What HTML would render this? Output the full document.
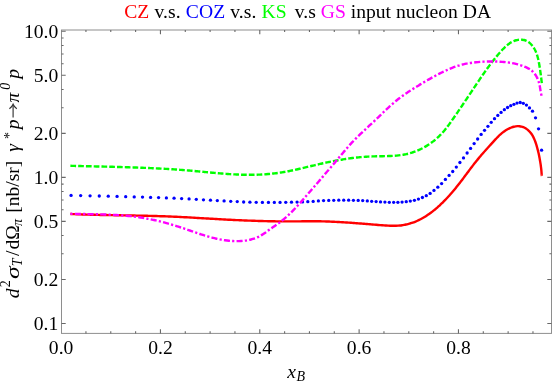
<!DOCTYPE html>
<html><head><meta charset="utf-8"><title>plot</title>
<style>
html,body{margin:0;padding:0;background:#fff;}
body{width:559px;height:382px;overflow:hidden;font-family:"Liberation Serif",serif;}
svg{display:block;}
</style></head><body>
<svg width="559" height="382" viewBox="0 0 559 382">
<rect width="559" height="382" fill="#fff"/>
<g fill="none" stroke-width="2.4">
<path d="M70.40 214.00C70.73 214.01 71.73 214.06 72.40 214.09C73.06 214.11 73.73 214.14 74.40 214.17C75.06 214.19 75.73 214.22 76.40 214.25C77.06 214.27 77.73 214.30 78.39 214.32C79.06 214.34 79.73 214.37 80.39 214.39C81.06 214.41 81.73 214.44 82.39 214.46C83.06 214.48 83.72 214.50 84.39 214.52C85.06 214.54 85.72 214.56 86.39 214.58C87.06 214.60 87.72 214.62 88.39 214.64C89.06 214.66 89.72 214.68 90.39 214.70C91.05 214.71 91.72 214.73 92.39 214.75C93.05 214.77 93.72 214.78 94.39 214.80C95.05 214.82 95.72 214.83 96.39 214.85C97.05 214.86 97.72 214.88 98.39 214.89C99.05 214.91 99.72 214.92 100.39 214.94C101.05 214.95 101.72 214.97 102.38 214.98C103.05 214.99 103.72 215.01 104.38 215.02C105.05 215.03 105.72 215.05 106.38 215.06C107.05 215.07 107.72 215.08 108.38 215.10C109.05 215.11 109.72 215.12 110.38 215.13C111.05 215.15 111.72 215.16 112.38 215.17C113.05 215.18 113.72 215.19 114.38 215.21C115.05 215.22 115.72 215.23 116.38 215.24C117.05 215.25 117.72 215.26 118.38 215.27C119.05 215.29 119.72 215.30 120.38 215.31C121.05 215.32 121.72 215.33 122.38 215.34C123.05 215.35 123.72 215.36 124.38 215.38C125.05 215.39 125.72 215.40 126.38 215.41C127.05 215.42 127.72 215.43 128.38 215.44C129.05 215.46 129.72 215.47 130.38 215.48C131.05 215.49 131.72 215.50 132.38 215.51C133.05 215.53 133.72 215.54 134.38 215.55C135.05 215.56 135.72 215.58 136.38 215.59C137.05 215.60 137.71 215.61 138.38 215.63C139.05 215.64 139.71 215.65 140.38 215.67C141.05 215.68 141.71 215.69 142.38 215.71C143.05 215.72 143.71 215.74 144.38 215.75C145.05 215.77 145.71 215.78 146.38 215.80C147.05 215.81 147.71 215.83 148.38 215.84C149.05 215.86 149.71 215.88 150.38 215.89C151.04 215.91 151.71 215.93 152.38 215.94C153.04 215.96 153.71 215.98 154.38 216.00C155.04 216.02 155.71 216.04 156.38 216.06C157.04 216.07 157.71 216.09 158.37 216.12C159.04 216.14 159.71 216.16 160.37 216.18C161.04 216.20 161.71 216.22 162.37 216.24C163.04 216.27 163.71 216.29 164.37 216.31C165.04 216.34 165.70 216.36 166.37 216.38C167.04 216.41 167.70 216.43 168.37 216.46C169.03 216.49 169.70 216.51 170.37 216.54C171.03 216.57 171.70 216.60 172.36 216.62C173.03 216.65 173.70 216.68 174.36 216.71C175.03 216.74 175.69 216.77 176.36 216.80C177.03 216.84 177.69 216.87 178.36 216.90C179.02 216.93 179.69 216.96 180.36 217.00C181.02 217.03 181.69 217.06 182.35 217.10C183.02 217.13 183.69 217.17 184.35 217.20C185.02 217.24 185.68 217.27 186.35 217.31C187.01 217.34 187.68 217.38 188.35 217.42C189.01 217.45 189.68 217.49 190.34 217.53C191.01 217.57 191.68 217.60 192.34 217.64C193.01 217.68 193.67 217.72 194.34 217.75C195.00 217.79 195.67 217.83 196.34 217.87C197.00 217.91 197.67 217.95 198.33 217.99C199.00 218.02 199.66 218.06 200.33 218.10C200.99 218.14 201.66 218.18 202.33 218.22C202.99 218.26 203.66 218.30 204.32 218.34C204.99 218.38 205.65 218.42 206.32 218.46C206.99 218.49 207.65 218.53 208.32 218.57C208.98 218.61 209.65 218.65 210.31 218.69C210.98 218.73 211.65 218.77 212.31 218.81C212.98 218.84 213.64 218.88 214.31 218.92C214.97 218.96 215.64 219.00 216.30 219.04C216.97 219.07 217.64 219.11 218.30 219.15C218.97 219.19 219.63 219.22 220.30 219.26C220.96 219.30 221.63 219.33 222.30 219.37C222.96 219.40 223.63 219.44 224.29 219.48C224.96 219.51 225.62 219.55 226.29 219.58C226.95 219.62 227.62 219.65 228.29 219.68C228.95 219.72 229.62 219.75 230.28 219.79C230.95 219.82 231.61 219.85 232.28 219.89C232.95 219.92 233.61 219.95 234.28 219.98C234.94 220.02 235.61 220.05 236.27 220.08C236.94 220.11 237.61 220.14 238.27 220.17C238.94 220.20 239.60 220.23 240.27 220.26C240.94 220.29 241.60 220.32 242.27 220.35C242.93 220.38 243.60 220.40 244.26 220.43C244.93 220.46 245.60 220.49 246.26 220.51C246.93 220.54 247.59 220.57 248.26 220.59C248.93 220.62 249.59 220.64 250.26 220.67C250.92 220.69 251.59 220.72 252.26 220.74C252.92 220.77 253.59 220.79 254.25 220.81C254.92 220.83 255.59 220.86 256.25 220.88C256.92 220.90 257.58 220.92 258.25 220.94C258.92 220.96 259.58 220.98 260.25 221.00C260.92 221.02 261.58 221.04 262.25 221.06C262.91 221.07 263.58 221.09 264.25 221.11C264.91 221.12 265.58 221.14 266.25 221.16C266.91 221.17 267.58 221.19 268.25 221.20C268.91 221.22 269.58 221.23 270.25 221.24C270.91 221.25 271.58 221.27 272.24 221.28C272.91 221.29 273.58 221.30 274.24 221.31C274.91 221.32 275.58 221.33 276.24 221.34C276.91 221.35 277.58 221.35 278.24 221.36C278.91 221.37 279.58 221.38 280.25 221.38C280.91 221.39 281.58 221.39 282.25 221.40C282.91 221.40 283.58 221.40 284.25 221.41C284.91 221.41 285.58 221.41 286.25 221.41C286.91 221.41 287.58 221.41 288.25 221.41C288.92 221.41 289.58 221.41 290.25 221.41C290.92 221.40 291.59 221.40 292.25 221.40C292.92 221.39 293.59 221.39 294.25 221.38C294.92 221.38 295.59 221.37 296.26 221.37C296.92 221.36 297.59 221.36 298.26 221.35C298.93 221.34 299.59 221.34 300.26 221.33C300.93 221.33 301.60 221.32 302.26 221.31C302.93 221.31 303.60 221.30 304.26 221.30C304.93 221.29 305.60 221.29 306.27 221.28C306.93 221.28 307.60 221.27 308.27 221.27C308.94 221.27 309.60 221.26 310.27 221.26C310.94 221.26 311.60 221.26 312.27 221.26C312.94 221.26 313.60 221.26 314.27 221.26C314.94 221.26 315.61 221.27 316.27 221.27C316.94 221.28 317.61 221.28 318.27 221.29C318.94 221.30 319.60 221.31 320.27 221.32C320.94 221.33 321.60 221.34 322.27 221.36C322.94 221.37 323.60 221.39 324.27 221.41C324.93 221.43 325.60 221.44 326.27 221.46C326.93 221.49 327.60 221.51 328.26 221.53C328.93 221.56 329.59 221.58 330.26 221.61C330.92 221.63 331.59 221.66 332.26 221.69C332.92 221.72 333.59 221.75 334.25 221.78C334.92 221.81 335.58 221.85 336.25 221.88C336.91 221.91 337.58 221.95 338.24 221.98C338.91 222.02 339.57 222.06 340.24 222.10C340.90 222.13 341.57 222.17 342.23 222.21C342.90 222.25 343.56 222.30 344.23 222.34C344.89 222.38 345.55 222.42 346.22 222.47C346.88 222.51 347.55 222.56 348.21 222.60C348.88 222.65 349.54 222.69 350.21 222.74C350.87 222.79 351.54 222.83 352.20 222.88C352.87 222.93 353.53 222.98 354.20 223.03C354.86 223.08 355.53 223.13 356.19 223.18C356.85 223.23 357.52 223.28 358.18 223.33C358.85 223.38 359.51 223.43 360.18 223.49C360.84 223.54 361.51 223.59 362.17 223.64C362.84 223.69 363.50 223.75 364.17 223.80C364.83 223.85 365.50 223.91 366.16 223.96C366.83 224.01 367.49 224.07 368.16 224.12C368.82 224.18 369.49 224.23 370.15 224.28C370.82 224.34 371.48 224.39 372.15 224.45C372.81 224.50 373.48 224.55 374.14 224.61C374.81 224.66 375.47 224.71 376.14 224.77C376.80 224.82 377.47 224.87 378.13 224.93C378.80 224.98 379.47 225.03 380.13 225.08C380.80 225.14 381.46 225.19 382.13 225.24C382.79 225.29 383.46 225.34 384.13 225.39C384.79 225.43 385.46 225.48 386.12 225.52C386.79 225.56 387.46 225.60 388.12 225.63C388.79 225.66 389.45 225.69 390.12 225.71C390.78 225.74 391.45 225.75 392.11 225.76C392.78 225.77 393.44 225.77 394.10 225.76C394.77 225.76 395.43 225.74 396.09 225.72C396.76 225.69 397.42 225.66 398.08 225.62C398.74 225.57 399.40 225.52 400.07 225.45C400.73 225.38 401.39 225.30 402.05 225.21C402.71 225.12 403.37 225.01 404.02 224.90C404.68 224.78 405.34 224.65 405.99 224.51C406.65 224.37 407.30 224.22 407.95 224.05C408.60 223.89 409.24 223.71 409.89 223.53C410.53 223.34 411.17 223.14 411.81 222.93C412.45 222.72 413.08 222.50 413.71 222.27C414.34 222.04 414.96 221.79 415.58 221.54C416.20 221.29 416.82 221.02 417.43 220.75C418.04 220.48 418.64 220.19 419.24 219.90C419.84 219.61 420.43 219.30 421.02 218.99C421.61 218.68 422.19 218.36 422.77 218.03C423.35 217.70 423.93 217.36 424.49 217.02C425.06 216.67 425.63 216.32 426.19 215.96C426.75 215.60 427.30 215.23 427.85 214.86C428.40 214.49 428.95 214.11 429.49 213.72C430.03 213.34 430.57 212.94 431.10 212.55C431.63 212.15 432.16 211.75 432.68 211.34C433.21 210.93 433.73 210.52 434.24 210.10C434.76 209.68 435.27 209.26 435.78 208.83C436.29 208.41 436.79 207.97 437.29 207.54C437.80 207.10 438.29 206.66 438.79 206.21C439.28 205.77 439.77 205.32 440.25 204.86C440.74 204.41 441.22 203.95 441.70 203.49C442.18 203.03 442.66 202.56 443.13 202.09C443.60 201.62 444.07 201.15 444.54 200.67C445.00 200.19 445.47 199.71 445.93 199.23C446.39 198.75 446.84 198.26 447.30 197.77C447.75 197.28 448.20 196.79 448.65 196.29C449.10 195.79 449.54 195.30 449.99 194.79C450.43 194.29 450.87 193.79 451.31 193.28C451.74 192.78 452.18 192.27 452.61 191.76C453.04 191.25 453.47 190.73 453.90 190.22C454.33 189.71 454.76 189.19 455.18 188.67C455.60 188.15 456.02 187.63 456.44 187.11C456.86 186.59 457.28 186.06 457.69 185.54C458.11 185.01 458.52 184.49 458.93 183.96C459.34 183.44 459.75 182.91 460.16 182.38C460.57 181.85 460.98 181.32 461.38 180.79C461.79 180.26 462.19 179.73 462.59 179.20C462.99 178.66 463.39 178.13 463.79 177.60C464.19 177.07 464.59 176.53 464.99 176.00C465.39 175.47 465.78 174.94 466.18 174.40C466.58 173.87 466.97 173.34 467.37 172.80C467.77 172.27 468.17 171.74 468.56 171.21C468.96 170.68 469.36 170.15 469.76 169.61C470.16 169.08 470.56 168.55 470.96 168.02C471.36 167.50 471.76 166.97 472.17 166.44C472.57 165.91 472.97 165.39 473.38 164.86C473.79 164.34 474.20 163.81 474.61 163.29C475.02 162.77 475.43 162.24 475.85 161.72C476.27 161.20 476.68 160.69 477.11 160.17C477.53 159.65 477.95 159.14 478.38 158.62C478.81 158.11 479.24 157.60 479.67 157.09C480.10 156.58 480.53 156.07 480.97 155.56C481.41 155.06 481.84 154.55 482.28 154.04C482.72 153.54 483.16 153.04 483.61 152.53C484.05 152.03 484.49 151.53 484.94 151.03C485.38 150.53 485.83 150.03 486.27 149.53C486.72 149.03 487.16 148.53 487.61 148.04C488.06 147.54 488.51 147.05 488.95 146.55C489.40 146.06 489.85 145.56 490.30 145.07C490.74 144.57 491.19 144.08 491.64 143.59C492.08 143.09 492.53 142.60 492.97 142.11C493.42 141.62 493.86 141.13 494.31 140.64C494.75 140.15 495.20 139.66 495.65 139.18C496.10 138.70 496.56 138.22 497.02 137.75C497.47 137.27 497.94 136.80 498.41 136.34C498.88 135.88 499.36 135.42 499.84 134.98C500.33 134.53 500.83 134.09 501.33 133.66C501.84 133.23 502.35 132.81 502.88 132.40C503.41 131.99 503.95 131.59 504.50 131.20C505.06 130.82 505.63 130.44 506.21 130.08C506.79 129.72 507.39 129.37 508.00 129.05C508.61 128.72 509.23 128.41 509.86 128.13C510.48 127.85 511.12 127.59 511.76 127.36C512.41 127.13 513.06 126.92 513.71 126.75C514.36 126.58 515.01 126.44 515.67 126.35C516.32 126.25 516.97 126.18 517.62 126.17C518.27 126.15 518.92 126.17 519.56 126.24C520.20 126.31 520.84 126.43 521.46 126.59C522.09 126.75 522.70 126.95 523.31 127.20C523.91 127.44 524.50 127.72 525.08 128.04C525.65 128.36 526.21 128.71 526.75 129.10C527.29 129.48 527.81 129.90 528.31 130.34C528.80 130.78 529.28 131.25 529.73 131.74C530.18 132.22 530.60 132.74 531.00 133.27C531.40 133.80 531.77 134.35 532.13 134.92C532.48 135.48 532.81 136.07 533.13 136.66C533.44 137.25 533.73 137.86 534.01 138.48C534.29 139.09 534.55 139.72 534.80 140.35C535.05 140.98 535.28 141.62 535.51 142.27C535.73 142.91 535.94 143.55 536.15 144.20C536.36 144.84 536.55 145.49 536.74 146.13C536.93 146.77 537.11 147.42 537.29 148.06C537.47 148.70 537.64 149.35 537.80 149.99C537.96 150.63 538.12 151.28 538.27 151.92C538.42 152.56 538.57 153.21 538.71 153.85C538.85 154.50 538.98 155.14 539.12 155.79C539.25 156.44 539.37 157.09 539.50 157.74C539.62 158.39 539.74 159.04 539.85 159.69C539.97 160.34 540.08 161.00 540.19 161.65C540.30 162.31 540.41 162.97 540.51 163.63C540.61 164.28 540.71 164.95 540.80 165.61C540.89 166.27 540.98 166.93 541.06 167.60C541.14 168.26 541.22 168.93 541.29 169.59C541.35 170.26 541.42 170.92 541.47 171.59C541.52 172.25 541.57 172.92 541.61 173.59C541.65 174.25 541.68 175.21 541.69 175.58C541.71 175.95 541.70 175.76 541.70 175.80" stroke="#ff0000"/>
<g fill="#0000ff" stroke="none"><circle cx="71.08" cy="195.40" r="1.65"/><circle cx="80.66" cy="195.60" r="1.65"/><circle cx="90.09" cy="195.85" r="1.65"/><circle cx="99.27" cy="196.00" r="1.65"/><circle cx="108.27" cy="196.20" r="1.65"/><circle cx="117.07" cy="196.40" r="1.65"/><circle cx="125.69" cy="196.70" r="1.65"/><circle cx="134.22" cy="196.90" r="1.65"/><circle cx="142.52" cy="197.10" r="1.65"/><circle cx="150.59" cy="197.40" r="1.65"/><circle cx="158.59" cy="197.60" r="1.65"/><circle cx="166.40" cy="197.90" r="1.65"/><circle cx="174.05" cy="198.20" r="1.65"/><circle cx="181.62" cy="198.60" r="1.65"/><circle cx="189.07" cy="198.90" r="1.65"/><circle cx="196.30" cy="199.30" r="1.65"/><circle cx="203.47" cy="199.80" r="1.65"/><circle cx="210.48" cy="200.20" r="1.65"/><circle cx="217.32" cy="200.60" r="1.65"/><circle cx="224.10" cy="200.90" r="1.65"/><circle cx="230.73" cy="201.30" r="1.65"/><circle cx="237.24" cy="201.60" r="1.65"/><circle cx="243.65" cy="202.00" r="1.65"/><circle cx="249.91" cy="202.20" r="1.65"/><circle cx="256.22" cy="202.30" r="1.65"/><circle cx="262.37" cy="202.40" r="1.65"/><circle cx="268.43" cy="202.40" r="1.65"/><circle cx="274.34" cy="202.40" r="1.65"/><circle cx="280.05" cy="202.40" r="1.65"/><circle cx="285.77" cy="202.30" r="1.65"/><circle cx="291.49" cy="202.20" r="1.65"/><circle cx="297.07" cy="202.10" r="1.65"/><circle cx="302.51" cy="201.90" r="1.65"/><circle cx="307.81" cy="201.70" r="1.65"/><circle cx="313.17" cy="201.40" r="1.65"/><circle cx="318.39" cy="200.90" r="1.65"/><circle cx="323.58" cy="200.60" r="1.65"/><circle cx="328.73" cy="200.40" r="1.65"/><circle cx="333.74" cy="200.30" r="1.65"/><circle cx="338.77" cy="200.20" r="1.65"/><circle cx="343.72" cy="200.20" r="1.65"/><circle cx="348.64" cy="200.20" r="1.65"/><circle cx="353.42" cy="200.30" r="1.65"/><circle cx="358.18" cy="200.40" r="1.65"/><circle cx="362.70" cy="200.60" r="1.65"/><circle cx="367.30" cy="200.90" r="1.65"/><circle cx="371.67" cy="201.30" r="1.65"/><circle cx="376.11" cy="201.60" r="1.65"/><circle cx="380.53" cy="201.90" r="1.65"/><circle cx="384.92" cy="202.10" r="1.65"/><circle cx="389.33" cy="202.30" r="1.65"/><circle cx="393.67" cy="202.30" r="1.65"/><circle cx="397.89" cy="202.30" r="1.65"/><circle cx="402.08" cy="202.10" r="1.65"/><circle cx="406.25" cy="201.70" r="1.65"/><circle cx="410.30" cy="201.10" r="1.65"/><circle cx="414.43" cy="200.30" r="1.65"/><circle cx="418.44" cy="199.10" r="1.65"/><circle cx="422.42" cy="197.50" r="1.65"/><circle cx="426.29" cy="195.70" r="1.65"/><circle cx="430.14" cy="193.40" r="1.65"/><circle cx="433.97" cy="190.40" r="1.65"/><circle cx="437.83" cy="187.20" r="1.65"/><circle cx="441.62" cy="183.60" r="1.65"/><circle cx="445.39" cy="179.40" r="1.65"/><circle cx="449.10" cy="175.40" r="1.65"/><circle cx="452.73" cy="171.50" r="1.65"/><circle cx="456.31" cy="167.10" r="1.65"/><circle cx="459.91" cy="162.50" r="1.65"/><circle cx="463.50" cy="157.90" r="1.65"/><circle cx="467.13" cy="153.00" r="1.65"/><circle cx="470.59" cy="148.40" r="1.65"/><circle cx="474.13" cy="143.60" r="1.65"/><circle cx="477.66" cy="139.00" r="1.65"/><circle cx="481.13" cy="134.40" r="1.65"/><circle cx="484.53" cy="130.30" r="1.65"/><circle cx="487.91" cy="126.30" r="1.65"/><circle cx="491.24" cy="122.30" r="1.65"/><circle cx="494.50" cy="118.70" r="1.65"/><circle cx="497.80" cy="115.40" r="1.65"/><circle cx="501.08" cy="112.40" r="1.65"/><circle cx="504.36" cy="109.70" r="1.65"/><circle cx="507.57" cy="107.50" r="1.65"/><circle cx="510.72" cy="105.70" r="1.65"/><circle cx="513.91" cy="104.30" r="1.65"/><circle cx="517.03" cy="103.10" r="1.65"/><circle cx="520.20" cy="102.50" r="1.65"/><circle cx="523.31" cy="103.30" r="1.65"/><circle cx="526.45" cy="105.10" r="1.65"/><circle cx="529.49" cy="107.90" r="1.65"/><circle cx="532.51" cy="111.20" r="1.65"/><circle cx="535.53" cy="117.80" r="1.65"/><circle cx="538.54" cy="128.80" r="1.65"/><circle cx="541.59" cy="150.20" r="1.65"/></g>
<path d="M70.40 165.80C70.73 165.81 71.73 165.84 72.40 165.85C73.07 165.87 73.73 165.89 74.40 165.90C75.07 165.92 75.73 165.94 76.40 165.96C77.07 165.97 77.73 165.99 78.40 166.01C79.07 166.02 79.73 166.04 80.40 166.05C81.07 166.07 81.73 166.09 82.40 166.10C83.07 166.12 83.73 166.13 84.40 166.15C85.07 166.17 85.73 166.18 86.40 166.20C87.06 166.21 87.73 166.23 88.40 166.24C89.06 166.26 89.73 166.27 90.40 166.29C91.06 166.31 91.73 166.32 92.40 166.34C93.06 166.35 93.73 166.37 94.40 166.38C95.06 166.40 95.73 166.41 96.40 166.43C97.06 166.44 97.73 166.46 98.40 166.48C99.06 166.49 99.73 166.51 100.40 166.52C101.06 166.54 101.73 166.55 102.40 166.57C103.06 166.59 103.73 166.60 104.40 166.62C105.06 166.63 105.73 166.65 106.39 166.67C107.06 166.68 107.73 166.70 108.39 166.71C109.06 166.73 109.73 166.75 110.39 166.76C111.06 166.78 111.73 166.80 112.39 166.81C113.06 166.83 113.73 166.85 114.39 166.87C115.06 166.88 115.72 166.90 116.39 166.92C117.06 166.94 117.72 166.95 118.39 166.97C119.06 166.99 119.72 167.01 120.39 167.03C121.06 167.05 121.72 167.07 122.39 167.08C123.05 167.10 123.72 167.12 124.39 167.14C125.05 167.16 125.72 167.18 126.39 167.20C127.05 167.22 127.72 167.24 128.38 167.26C129.05 167.28 129.72 167.31 130.38 167.33C131.05 167.35 131.72 167.37 132.38 167.39C133.05 167.42 133.71 167.44 134.38 167.46C135.05 167.48 135.71 167.51 136.38 167.53C137.04 167.55 137.71 167.58 138.38 167.60C139.04 167.63 139.71 167.65 140.37 167.68C141.04 167.70 141.71 167.73 142.37 167.75C143.04 167.78 143.70 167.81 144.37 167.83C145.04 167.86 145.70 167.89 146.37 167.92C147.03 167.94 147.70 167.97 148.37 168.00C149.03 168.03 149.70 168.06 150.36 168.09C151.03 168.12 151.69 168.15 152.36 168.18C153.03 168.21 153.69 168.24 154.36 168.28C155.02 168.31 155.69 168.34 156.35 168.37C157.02 168.41 157.69 168.44 158.35 168.47C159.02 168.51 159.68 168.54 160.35 168.58C161.01 168.61 161.68 168.65 162.34 168.69C163.01 168.72 163.68 168.76 164.34 168.80C165.01 168.84 165.67 168.88 166.34 168.92C167.00 168.95 167.67 168.99 168.33 169.03C169.00 169.08 169.66 169.12 170.33 169.16C170.99 169.20 171.66 169.24 172.33 169.29C172.99 169.33 173.66 169.37 174.32 169.42C174.99 169.46 175.65 169.51 176.32 169.55C176.98 169.60 177.65 169.65 178.31 169.70C178.98 169.74 179.64 169.79 180.31 169.84C180.97 169.89 181.64 169.94 182.30 169.99C182.97 170.04 183.63 170.09 184.30 170.15C184.96 170.20 185.63 170.25 186.29 170.31C186.95 170.36 187.62 170.42 188.28 170.47C188.95 170.53 189.61 170.58 190.28 170.64C190.94 170.70 191.61 170.76 192.27 170.82C192.94 170.87 193.60 170.93 194.27 171.00C194.93 171.06 195.59 171.12 196.26 171.18C196.92 171.24 197.59 171.30 198.25 171.36C198.92 171.43 199.58 171.49 200.25 171.55C200.91 171.62 201.57 171.68 202.24 171.74C202.90 171.81 203.57 171.87 204.23 171.93C204.90 172.00 205.56 172.06 206.22 172.12C206.89 172.19 207.55 172.25 208.22 172.31C208.88 172.38 209.55 172.44 210.21 172.50C210.87 172.56 211.54 172.62 212.20 172.69C212.87 172.75 213.53 172.81 214.20 172.87C214.86 172.93 215.52 172.99 216.19 173.05C216.85 173.11 217.52 173.17 218.18 173.22C218.85 173.28 219.51 173.34 220.18 173.39C220.84 173.45 221.51 173.50 222.17 173.56C222.83 173.61 223.50 173.66 224.16 173.71C224.83 173.77 225.49 173.82 226.16 173.86C226.82 173.91 227.49 173.96 228.15 174.01C228.82 174.05 229.48 174.10 230.15 174.14C230.81 174.18 231.48 174.22 232.14 174.26C232.81 174.30 233.47 174.34 234.14 174.37C234.80 174.41 235.47 174.44 236.13 174.48C236.80 174.51 237.46 174.54 238.13 174.57C238.79 174.59 239.46 174.62 240.12 174.64C240.79 174.67 241.46 174.69 242.12 174.71C242.79 174.73 243.45 174.75 244.12 174.76C244.78 174.77 245.45 174.79 246.12 174.80C246.78 174.80 247.45 174.81 248.11 174.82C248.78 174.82 249.45 174.82 250.11 174.82C250.78 174.82 251.45 174.81 252.11 174.81C252.78 174.80 253.45 174.79 254.11 174.78C254.78 174.76 255.45 174.75 256.11 174.73C256.78 174.71 257.44 174.69 258.11 174.66C258.78 174.64 259.44 174.61 260.11 174.58C260.78 174.55 261.44 174.51 262.11 174.48C262.77 174.44 263.44 174.40 264.10 174.35C264.77 174.31 265.44 174.26 266.10 174.21C266.77 174.16 267.43 174.11 268.09 174.05C268.76 173.99 269.42 173.93 270.09 173.87C270.75 173.81 271.41 173.74 272.08 173.67C272.74 173.60 273.40 173.52 274.06 173.45C274.72 173.37 275.39 173.29 276.05 173.20C276.71 173.12 277.37 173.03 278.03 172.94C278.69 172.84 279.35 172.75 280.01 172.65C280.67 172.55 281.32 172.45 281.98 172.34C282.64 172.23 283.30 172.12 283.95 172.01C284.61 171.90 285.26 171.78 285.92 171.66C286.58 171.54 287.23 171.42 287.88 171.29C288.54 171.17 289.19 171.04 289.85 170.91C290.50 170.78 291.15 170.64 291.81 170.51C292.46 170.37 293.11 170.23 293.76 170.10C294.42 169.96 295.07 169.81 295.72 169.67C296.37 169.53 297.02 169.38 297.67 169.24C298.32 169.09 298.98 168.94 299.63 168.79C300.28 168.64 300.93 168.49 301.58 168.34C302.23 168.19 302.88 168.04 303.53 167.88C304.18 167.73 304.83 167.57 305.48 167.42C306.13 167.26 306.77 167.11 307.42 166.95C308.07 166.80 308.72 166.64 309.37 166.49C310.02 166.33 310.67 166.17 311.32 166.02C311.97 165.86 312.62 165.71 313.27 165.55C313.92 165.40 314.57 165.24 315.22 165.09C315.87 164.94 316.52 164.78 317.17 164.63C317.82 164.48 318.46 164.33 319.12 164.18C319.77 164.03 320.42 163.88 321.07 163.73C321.72 163.58 322.37 163.44 323.02 163.29C323.67 163.15 324.32 163.00 324.97 162.86C325.62 162.72 326.27 162.58 326.92 162.44C327.58 162.30 328.23 162.17 328.88 162.03C329.53 161.90 330.19 161.76 330.84 161.63C331.49 161.50 332.14 161.37 332.80 161.24C333.45 161.11 334.10 160.99 334.76 160.86C335.41 160.74 336.07 160.62 336.72 160.50C337.37 160.37 338.03 160.26 338.68 160.14C339.34 160.02 339.99 159.91 340.65 159.80C341.31 159.68 341.96 159.57 342.62 159.47C343.28 159.36 343.93 159.25 344.59 159.15C345.25 159.05 345.90 158.95 346.56 158.85C347.22 158.75 347.88 158.65 348.54 158.56C349.20 158.47 349.85 158.38 350.51 158.29C351.17 158.20 351.83 158.11 352.49 158.03C353.15 157.95 353.82 157.87 354.48 157.79C355.14 157.71 355.80 157.63 356.46 157.56C357.12 157.49 357.79 157.42 358.45 157.35C359.11 157.29 359.78 157.22 360.44 157.16C361.10 157.10 361.77 157.04 362.43 156.99C363.10 156.93 363.76 156.88 364.43 156.83C365.10 156.79 365.76 156.74 366.43 156.70C367.10 156.66 367.76 156.62 368.43 156.58C369.10 156.55 369.77 156.51 370.44 156.48C371.11 156.46 371.78 156.43 372.45 156.41C373.12 156.38 373.79 156.37 374.46 156.35C375.13 156.33 375.80 156.32 376.48 156.30C377.15 156.29 377.82 156.28 378.49 156.27C379.16 156.26 379.84 156.25 380.51 156.24C381.18 156.23 381.85 156.22 382.52 156.21C383.20 156.19 383.87 156.18 384.54 156.17C385.21 156.16 385.88 156.14 386.55 156.12C387.22 156.11 387.89 156.09 388.56 156.06C389.23 156.04 389.90 156.02 390.57 155.99C391.23 155.96 391.90 155.92 392.57 155.88C393.23 155.85 393.90 155.80 394.56 155.75C395.23 155.71 395.89 155.65 396.55 155.59C397.21 155.53 397.87 155.47 398.53 155.39C399.19 155.32 399.85 155.24 400.50 155.15C401.16 155.06 401.82 154.97 402.47 154.86C403.12 154.76 403.77 154.64 404.42 154.52C405.07 154.40 405.72 154.27 406.37 154.12C407.01 153.98 407.66 153.83 408.30 153.67C408.94 153.51 409.58 153.33 410.22 153.15C410.85 152.97 411.49 152.77 412.12 152.57C412.75 152.37 413.38 152.15 414.01 151.93C414.63 151.71 415.26 151.47 415.88 151.23C416.50 150.99 417.12 150.74 417.73 150.48C418.34 150.22 418.95 149.95 419.56 149.67C420.16 149.39 420.77 149.10 421.37 148.80C421.96 148.50 422.56 148.20 423.15 147.88C423.74 147.57 424.32 147.24 424.90 146.91C425.48 146.58 426.06 146.24 426.63 145.89C427.20 145.54 427.77 145.19 428.33 144.82C428.89 144.46 429.45 144.08 430.00 143.70C430.55 143.32 431.10 142.93 431.64 142.54C432.18 142.14 432.71 141.74 433.24 141.33C433.77 140.92 434.29 140.50 434.80 140.07C435.32 139.65 435.83 139.21 436.33 138.78C436.83 138.34 437.33 137.89 437.82 137.44C438.31 136.98 438.79 136.52 439.27 136.06C439.75 135.59 440.21 135.12 440.68 134.64C441.14 134.16 441.59 133.67 442.04 133.18C442.49 132.69 442.93 132.19 443.36 131.69C443.79 131.19 444.22 130.68 444.64 130.17C445.07 129.66 445.48 129.14 445.90 128.62C446.31 128.10 446.72 127.58 447.12 127.05C447.53 126.52 447.93 125.99 448.32 125.45C448.72 124.92 449.11 124.38 449.50 123.84C449.89 123.30 450.28 122.76 450.67 122.22C451.05 121.67 451.44 121.13 451.82 120.58C452.20 120.04 452.59 119.49 452.97 118.94C453.35 118.39 453.73 117.84 454.11 117.29C454.49 116.74 454.87 116.19 455.25 115.64C455.63 115.09 456.01 114.54 456.39 113.99C456.77 113.44 457.15 112.89 457.53 112.34C457.90 111.78 458.28 111.23 458.66 110.68C459.04 110.13 459.41 109.57 459.79 109.02C460.17 108.47 460.54 107.92 460.92 107.36C461.29 106.81 461.67 106.25 462.05 105.70C462.42 105.15 462.80 104.59 463.17 104.04C463.54 103.48 463.92 102.93 464.29 102.37C464.67 101.82 465.04 101.27 465.41 100.71C465.78 100.16 466.16 99.60 466.53 99.05C466.90 98.49 467.27 97.94 467.64 97.38C468.02 96.83 468.39 96.27 468.76 95.72C469.13 95.16 469.50 94.61 469.87 94.05C470.24 93.50 470.61 92.95 470.98 92.39C471.35 91.84 471.71 91.28 472.08 90.73C472.45 90.18 472.82 89.62 473.19 89.07C473.56 88.52 473.92 87.96 474.29 87.41C474.66 86.86 475.03 86.30 475.40 85.75C475.76 85.20 476.13 84.65 476.50 84.10C476.87 83.55 477.24 83.00 477.61 82.45C477.98 81.90 478.35 81.35 478.72 80.80C479.09 80.25 479.46 79.70 479.83 79.15C480.20 78.60 480.58 78.05 480.95 77.51C481.33 76.96 481.70 76.41 482.08 75.87C482.45 75.32 482.83 74.78 483.21 74.24C483.59 73.69 483.97 73.15 484.35 72.61C484.73 72.06 485.12 71.52 485.50 70.98C485.89 70.44 486.27 69.90 486.66 69.36C487.05 68.82 487.44 68.29 487.83 67.75C488.23 67.21 488.62 66.68 489.02 66.14C489.41 65.61 489.81 65.07 490.21 64.54C490.61 64.01 491.02 63.48 491.42 62.95C491.83 62.42 492.24 61.89 492.65 61.36C493.06 60.83 493.47 60.31 493.89 59.78C494.31 59.26 494.73 58.73 495.15 58.21C495.57 57.69 496.00 57.17 496.43 56.65C496.85 56.13 497.29 55.61 497.72 55.09C498.16 54.57 498.60 54.06 499.04 53.54C499.48 53.03 499.93 52.52 500.37 52.01C500.82 51.50 501.28 50.99 501.74 50.48C502.19 49.98 502.66 49.48 503.12 48.99C503.59 48.50 504.07 48.01 504.55 47.54C505.03 47.07 505.52 46.60 506.02 46.16C506.52 45.71 507.02 45.28 507.54 44.86C508.06 44.44 508.58 44.04 509.12 43.66C509.65 43.28 510.20 42.92 510.76 42.59C511.32 42.25 511.89 41.94 512.47 41.65C513.05 41.36 513.65 41.10 514.26 40.87C514.87 40.64 515.50 40.43 516.13 40.26C516.77 40.09 517.43 39.95 518.09 39.85C518.74 39.75 519.42 39.68 520.08 39.66C520.75 39.63 521.42 39.65 522.08 39.70C522.73 39.76 523.39 39.86 524.03 40.01C524.67 40.16 525.30 40.35 525.91 40.60C526.52 40.84 527.11 41.15 527.67 41.49C528.23 41.83 528.78 42.22 529.30 42.64C529.81 43.05 530.31 43.51 530.78 43.99C531.25 44.46 531.70 44.96 532.12 45.48C532.54 45.99 532.93 46.53 533.31 47.07C533.68 47.62 534.03 48.18 534.36 48.76C534.69 49.34 535.00 49.93 535.29 50.53C535.58 51.13 535.85 51.75 536.10 52.37C536.35 52.99 536.59 53.63 536.81 54.27C537.03 54.91 537.24 55.55 537.43 56.21C537.62 56.86 537.80 57.52 537.97 58.19C538.14 58.85 538.29 59.52 538.44 60.19C538.59 60.86 538.72 61.53 538.85 62.20C538.98 62.87 539.10 63.55 539.22 64.22C539.33 64.89 539.44 65.56 539.54 66.22C539.65 66.89 539.75 67.55 539.85 68.20C539.95 68.86 540.04 69.51 540.14 70.15C540.23 70.80 540.32 71.44 540.41 72.08C540.50 72.72 540.59 73.35 540.68 73.99C540.77 74.63 540.85 75.27 540.94 75.91C541.02 76.56 541.10 77.20 541.18 77.86C541.27 78.51 541.35 79.17 541.42 79.84C541.50 80.51 541.59 81.31 541.66 81.87C541.72 82.43 541.78 82.98 541.80 83.20" stroke="#00ff00" stroke-dasharray="5.7 2.07"/>
<path d="M70.40 213.80C70.73 213.81 71.72 213.83 72.39 213.85C73.05 213.86 73.71 213.87 74.38 213.89C75.04 213.90 75.70 213.91 76.37 213.92C77.03 213.94 77.70 213.95 78.36 213.96C79.03 213.97 79.69 213.98 80.36 213.99C81.02 214.00 81.69 214.01 82.35 214.02C83.02 214.03 83.69 214.04 84.35 214.05C85.02 214.07 85.69 214.08 86.35 214.09C87.02 214.10 87.69 214.11 88.35 214.12C89.02 214.13 89.69 214.14 90.36 214.15C91.02 214.16 91.69 214.17 92.36 214.19C93.03 214.20 93.69 214.21 94.36 214.22C95.03 214.24 95.70 214.25 96.37 214.27C97.04 214.28 97.70 214.30 98.37 214.31C99.04 214.33 99.71 214.34 100.38 214.36C101.04 214.38 101.71 214.40 102.38 214.42C103.05 214.44 103.72 214.46 104.39 214.48C105.05 214.50 105.72 214.53 106.39 214.55C107.06 214.57 107.73 214.60 108.39 214.63C109.06 214.65 109.73 214.68 110.40 214.71C111.07 214.74 111.73 214.77 112.40 214.81C113.07 214.84 113.74 214.87 114.40 214.91C115.07 214.95 115.74 214.98 116.40 215.02C117.07 215.06 117.74 215.11 118.40 215.15C119.07 215.19 119.73 215.24 120.40 215.29C121.07 215.33 121.73 215.38 122.40 215.44C123.06 215.49 123.73 215.54 124.39 215.60C125.06 215.65 125.72 215.71 126.38 215.77C127.05 215.84 127.71 215.90 128.37 215.96C129.04 216.03 129.70 216.10 130.36 216.17C131.03 216.24 131.69 216.32 132.35 216.39C133.01 216.47 133.67 216.55 134.33 216.63C134.99 216.71 135.65 216.80 136.31 216.89C136.97 216.97 137.63 217.07 138.29 217.16C138.95 217.25 139.61 217.35 140.26 217.45C140.92 217.55 141.58 217.66 142.24 217.76C142.89 217.87 143.55 217.98 144.20 218.09C144.86 218.21 145.52 218.32 146.17 218.44C146.82 218.56 147.48 218.68 148.13 218.81C148.78 218.93 149.44 219.06 150.09 219.19C150.74 219.32 151.39 219.46 152.05 219.60C152.70 219.73 153.35 219.87 154.00 220.02C154.65 220.16 155.30 220.30 155.95 220.45C156.60 220.60 157.24 220.75 157.89 220.90C158.54 221.06 159.19 221.22 159.83 221.37C160.48 221.53 161.13 221.69 161.77 221.86C162.42 222.02 163.06 222.19 163.71 222.36C164.35 222.53 165.00 222.70 165.64 222.88C166.29 223.05 166.93 223.23 167.57 223.41C168.22 223.59 168.86 223.77 169.50 223.95C170.14 224.14 170.78 224.32 171.42 224.51C172.06 224.70 172.70 224.89 173.34 225.08C173.98 225.28 174.62 225.47 175.26 225.67C175.90 225.87 176.54 226.07 177.17 226.27C177.81 226.47 178.45 226.68 179.08 226.88C179.72 227.09 180.36 227.30 180.99 227.51C181.63 227.72 182.26 227.93 182.90 228.14C183.53 228.36 184.17 228.57 184.80 228.79C185.43 229.00 186.07 229.22 186.70 229.44C187.33 229.66 187.97 229.88 188.60 230.10C189.23 230.31 189.86 230.53 190.50 230.75C191.13 230.97 191.76 231.19 192.39 231.41C193.03 231.63 193.66 231.85 194.29 232.06C194.92 232.28 195.56 232.50 196.19 232.71C196.82 232.93 197.45 233.14 198.09 233.36C198.72 233.57 199.35 233.78 199.99 233.99C200.62 234.20 201.26 234.40 201.89 234.61C202.53 234.81 203.16 235.02 203.80 235.22C204.43 235.41 205.07 235.61 205.70 235.81C206.34 236.00 206.98 236.19 207.61 236.38C208.25 236.56 208.89 236.75 209.53 236.93C210.17 237.11 210.81 237.28 211.45 237.45C212.09 237.63 212.73 237.79 213.37 237.96C214.02 238.12 214.66 238.28 215.30 238.43C215.95 238.58 216.59 238.73 217.24 238.87C217.88 239.02 218.53 239.15 219.18 239.29C219.83 239.42 220.48 239.54 221.13 239.66C221.78 239.78 222.43 239.90 223.08 240.00C223.74 240.11 224.39 240.21 225.05 240.30C225.70 240.40 226.36 240.48 227.02 240.56C227.68 240.64 228.34 240.71 229.00 240.78C229.66 240.84 230.33 240.90 230.99 240.94C231.65 240.99 232.32 241.03 232.99 241.07C233.66 241.10 234.33 241.12 235.00 241.13C235.67 241.15 236.34 241.16 237.02 241.15C237.69 241.15 238.37 241.13 239.05 241.11C239.72 241.09 240.40 241.06 241.08 241.01C241.75 240.97 242.43 240.92 243.11 240.85C243.78 240.79 244.45 240.71 245.12 240.62C245.79 240.53 246.46 240.43 247.13 240.32C247.79 240.21 248.45 240.08 249.11 239.95C249.77 239.81 250.42 239.66 251.06 239.49C251.71 239.33 252.35 239.15 252.99 238.96C253.62 238.76 254.25 238.56 254.88 238.33C255.50 238.11 256.12 237.87 256.73 237.62C257.34 237.37 257.94 237.10 258.53 236.81C259.13 236.52 259.71 236.22 260.29 235.90C260.87 235.58 261.44 235.24 262.01 234.89C262.57 234.54 263.13 234.18 263.68 233.80C264.23 233.43 264.78 233.05 265.33 232.66C265.87 232.27 266.42 231.88 266.96 231.48C267.50 231.09 268.04 230.69 268.58 230.29C269.13 229.89 269.67 229.50 270.21 229.11C270.76 228.72 271.31 228.34 271.85 227.95C272.40 227.57 272.95 227.19 273.50 226.82C274.05 226.44 274.60 226.06 275.15 225.69C275.70 225.31 276.25 224.93 276.79 224.55C277.34 224.17 277.88 223.78 278.42 223.39C278.96 223.01 279.49 222.61 280.03 222.21C280.56 221.81 281.08 221.41 281.61 220.99C282.13 220.58 282.65 220.16 283.16 219.74C283.68 219.31 284.19 218.88 284.69 218.45C285.20 218.01 285.70 217.57 286.20 217.13C286.70 216.68 287.19 216.23 287.69 215.78C288.18 215.33 288.66 214.87 289.15 214.41C289.63 213.95 290.11 213.48 290.59 213.02C291.06 212.55 291.54 212.08 292.01 211.61C292.48 211.13 292.94 210.66 293.41 210.18C293.87 209.70 294.33 209.22 294.79 208.74C295.25 208.25 295.71 207.77 296.16 207.28C296.62 206.79 297.07 206.30 297.52 205.81C297.97 205.32 298.42 204.82 298.86 204.33C299.31 203.83 299.75 203.34 300.20 202.84C300.64 202.34 301.08 201.84 301.52 201.34C301.96 200.84 302.40 200.34 302.84 199.84C303.28 199.33 303.72 198.83 304.15 198.33C304.59 197.82 305.03 197.32 305.46 196.82C305.90 196.31 306.34 195.81 306.77 195.30C307.21 194.80 307.64 194.29 308.08 193.79C308.51 193.28 308.95 192.78 309.39 192.27C309.82 191.77 310.26 191.27 310.69 190.76C311.13 190.26 311.56 189.75 312.00 189.25C312.43 188.74 312.87 188.24 313.31 187.73C313.74 187.23 314.18 186.72 314.61 186.22C315.05 185.71 315.48 185.21 315.92 184.70C316.35 184.20 316.79 183.69 317.22 183.19C317.66 182.68 318.09 182.18 318.53 181.67C318.96 181.17 319.39 180.66 319.83 180.16C320.26 179.65 320.70 179.14 321.13 178.64C321.56 178.13 322.00 177.63 322.43 177.12C322.87 176.61 323.30 176.11 323.73 175.60C324.17 175.09 324.60 174.59 325.03 174.08C325.46 173.57 325.90 173.07 326.33 172.56C326.76 172.05 327.19 171.54 327.63 171.04C328.06 170.53 328.49 170.02 328.92 169.51C329.35 169.00 329.78 168.49 330.22 167.99C330.65 167.48 331.08 166.97 331.51 166.46C331.94 165.95 332.37 165.44 332.80 164.93C333.23 164.42 333.66 163.91 334.09 163.40C334.51 162.89 334.94 162.38 335.37 161.87C335.80 161.35 336.23 160.84 336.66 160.33C337.08 159.82 337.51 159.31 337.94 158.79C338.37 158.28 338.80 157.77 339.22 157.26C339.65 156.75 340.08 156.23 340.51 155.72C340.94 155.21 341.36 154.70 341.79 154.19C342.22 153.68 342.65 153.17 343.09 152.66C343.52 152.15 343.95 151.64 344.38 151.14C344.81 150.63 345.25 150.12 345.68 149.62C346.12 149.11 346.56 148.61 347.00 148.11C347.43 147.61 347.87 147.11 348.32 146.61C348.76 146.11 349.20 145.61 349.65 145.12C350.09 144.62 350.54 144.13 350.99 143.64C351.44 143.15 351.89 142.66 352.35 142.17C352.80 141.69 353.26 141.20 353.72 140.72C354.18 140.24 354.64 139.76 355.11 139.29C355.57 138.81 356.04 138.34 356.51 137.87C356.98 137.40 357.45 136.93 357.93 136.46C358.40 135.99 358.88 135.53 359.36 135.07C359.84 134.60 360.32 134.14 360.80 133.68C361.28 133.22 361.77 132.76 362.25 132.31C362.74 131.85 363.22 131.39 363.71 130.94C364.20 130.48 364.68 130.03 365.17 129.57C365.66 129.12 366.15 128.67 366.64 128.21C367.13 127.76 367.62 127.31 368.11 126.85C368.60 126.40 369.09 125.95 369.58 125.49C370.07 125.04 370.56 124.59 371.04 124.13C371.53 123.68 372.02 123.23 372.51 122.77C373.00 122.31 373.48 121.86 373.97 121.40C374.46 120.94 374.94 120.49 375.42 120.03C375.91 119.57 376.39 119.10 376.87 118.64C377.35 118.18 377.83 117.72 378.31 117.26C378.79 116.79 379.27 116.33 379.75 115.87C380.23 115.40 380.71 114.94 381.19 114.47C381.67 114.01 382.15 113.55 382.63 113.08C383.10 112.62 383.58 112.16 384.07 111.70C384.55 111.24 385.03 110.78 385.51 110.32C385.99 109.86 386.48 109.40 386.96 108.94C387.44 108.49 387.93 108.03 388.42 107.58C388.91 107.13 389.40 106.68 389.89 106.23C390.38 105.78 390.87 105.33 391.37 104.89C391.86 104.45 392.36 104.01 392.86 103.57C393.36 103.13 393.87 102.70 394.37 102.26C394.88 101.83 395.39 101.41 395.90 100.98C396.41 100.56 396.93 100.14 397.45 99.72C397.96 99.30 398.49 98.89 399.01 98.48C399.54 98.07 400.07 97.67 400.60 97.27C401.14 96.87 401.68 96.48 402.22 96.09C402.76 95.70 403.31 95.31 403.85 94.93C404.40 94.55 404.95 94.17 405.51 93.79C406.06 93.42 406.62 93.05 407.18 92.68C407.73 92.31 408.29 91.94 408.86 91.57C409.42 91.21 409.98 90.85 410.55 90.49C411.11 90.13 411.68 89.77 412.24 89.41C412.81 89.05 413.37 88.70 413.94 88.34C414.51 87.99 415.07 87.63 415.64 87.28C416.21 86.93 416.77 86.57 417.34 86.22C417.91 85.87 418.48 85.52 419.05 85.18C419.62 84.83 420.18 84.48 420.75 84.14C421.32 83.79 421.90 83.45 422.47 83.11C423.04 82.77 423.61 82.43 424.18 82.09C424.76 81.75 425.33 81.41 425.90 81.08C426.48 80.74 427.05 80.41 427.63 80.08C428.21 79.74 428.79 79.41 429.36 79.09C429.94 78.76 430.52 78.43 431.10 78.11C431.68 77.79 432.27 77.47 432.85 77.15C433.43 76.83 434.02 76.51 434.61 76.19C435.19 75.88 435.78 75.57 436.37 75.26C436.96 74.95 437.55 74.64 438.14 74.33C438.73 74.03 439.33 73.72 439.92 73.42C440.52 73.12 441.12 72.82 441.71 72.53C442.31 72.23 442.91 71.94 443.52 71.65C444.12 71.37 444.72 71.08 445.33 70.80C445.94 70.52 446.55 70.24 447.16 69.97C447.77 69.70 448.38 69.43 448.99 69.17C449.60 68.91 450.22 68.65 450.84 68.40C451.46 68.14 452.08 67.90 452.70 67.66C453.32 67.42 453.94 67.18 454.57 66.96C455.20 66.73 455.83 66.51 456.46 66.29C457.09 66.08 457.72 65.87 458.35 65.67C458.99 65.47 459.63 65.28 460.27 65.10C460.91 64.92 461.55 64.74 462.19 64.57C462.84 64.41 463.48 64.25 464.13 64.10C464.78 63.95 465.43 63.81 466.09 63.68C466.74 63.55 467.40 63.43 468.05 63.31C468.71 63.20 469.37 63.09 470.03 62.99C470.69 62.89 471.35 62.80 472.02 62.71C472.68 62.62 473.34 62.54 474.01 62.47C474.67 62.39 475.34 62.32 476.00 62.26C476.67 62.19 477.34 62.13 478.00 62.07C478.67 62.01 479.33 61.96 480.00 61.91C480.67 61.86 481.33 61.81 482.00 61.77C482.66 61.73 483.33 61.69 484.00 61.66C484.66 61.63 485.33 61.60 486.00 61.58C486.66 61.55 487.33 61.53 488.00 61.52C488.66 61.50 489.33 61.49 489.99 61.48C490.66 61.48 491.33 61.47 491.99 61.48C492.66 61.48 493.33 61.48 493.99 61.49C494.66 61.50 495.32 61.52 495.99 61.54C496.65 61.56 497.32 61.58 497.98 61.61C498.65 61.63 499.31 61.67 499.98 61.70C500.64 61.74 501.31 61.78 501.97 61.83C502.63 61.88 503.30 61.93 503.96 61.99C504.62 62.06 505.28 62.12 505.94 62.19C506.60 62.27 507.26 62.35 507.92 62.43C508.58 62.52 509.24 62.62 509.90 62.72C510.55 62.82 511.21 62.93 511.87 63.05C512.52 63.17 513.17 63.30 513.83 63.43C514.48 63.57 515.13 63.71 515.78 63.87C516.43 64.02 517.08 64.18 517.72 64.36C518.37 64.53 519.01 64.71 519.65 64.91C520.30 65.10 520.94 65.31 521.58 65.52C522.22 65.74 522.86 65.96 523.49 66.20C524.12 66.44 524.76 66.69 525.38 66.96C526.00 67.22 526.62 67.50 527.23 67.80C527.83 68.10 528.42 68.42 529.00 68.76C529.57 69.10 530.13 69.46 530.66 69.84C531.19 70.23 531.71 70.64 532.20 71.08C532.68 71.51 533.15 71.97 533.58 72.46C534.02 72.94 534.44 73.45 534.83 73.97C535.22 74.50 535.59 75.04 535.94 75.60C536.28 76.17 536.61 76.75 536.91 77.34C537.21 77.93 537.49 78.54 537.75 79.15C538.01 79.77 538.25 80.40 538.47 81.03C538.69 81.67 538.88 82.32 539.06 82.96C539.24 83.61 539.39 84.27 539.54 84.93C539.68 85.58 539.80 86.25 539.92 86.91C540.04 87.57 540.14 88.23 540.25 88.89C540.35 89.56 540.45 90.22 540.57 90.88C540.68 91.54 540.79 92.20 540.92 92.85C541.05 93.50 541.20 94.20 541.35 94.79C541.49 95.39 541.72 96.13 541.80 96.40" stroke="#ff00ff" stroke-dasharray="2.2 2.2 6.1 2.2"/>
</g>
<g stroke="#8e8e8e" stroke-width="1" fill="none">
<rect x="61.5" y="30.0" width="490.0" height="303.4"/>
<path stroke-width="1.1" stroke="#686868" d="M85.94 333.4v-2.1M85.94 30.0v2.1M110.77 333.4v-2.1M110.77 30.0v2.1M135.61 333.4v-2.1M135.61 30.0v2.1M160.44 333.4v-4.2M160.44 30.0v4.2M185.28 333.4v-2.1M185.28 30.0v2.1M210.11 333.4v-2.1M210.11 30.0v2.1M234.94 333.4v-2.1M234.94 30.0v2.1M259.78 333.4v-4.2M259.78 30.0v4.2M284.62 333.4v-2.1M284.62 30.0v2.1M309.45 333.4v-2.1M309.45 30.0v2.1M334.29 333.4v-2.1M334.29 30.0v2.1M359.12 333.4v-4.2M359.12 30.0v4.2M383.96 333.4v-2.1M383.96 30.0v2.1M408.79 333.4v-2.1M408.79 30.0v2.1M433.62 333.4v-2.1M433.62 30.0v2.1M458.46 333.4v-4.2M458.46 30.0v4.2M483.30 333.4v-2.1M483.30 30.0v2.1M508.13 333.4v-2.1M508.13 30.0v2.1M532.97 333.4v-2.1M532.97 30.0v2.1M61.5 323.50h4.2M551.5 323.50h-4.2M61.5 279.52h4.2M551.5 279.52h-4.2M61.5 221.38h4.2M551.5 221.38h-4.2M61.5 177.40h4.2M551.5 177.40h-4.2M61.5 133.42h4.2M551.5 133.42h-4.2M61.5 75.28h4.2M551.5 75.28h-4.2M61.5 31.30h4.2M551.5 31.30h-4.2M61.5 253.79h2.1M551.5 253.79h-2.1M61.5 235.54h2.1M551.5 235.54h-2.1M61.5 209.81h2.1M551.5 209.81h-2.1M61.5 200.03h2.1M551.5 200.03h-2.1M61.5 191.56h2.1M551.5 191.56h-2.1M61.5 184.09h2.1M551.5 184.09h-2.1M61.5 107.69h2.1M551.5 107.69h-2.1M61.5 89.44h2.1M551.5 89.44h-2.1M61.5 63.71h2.1M551.5 63.71h-2.1M61.5 53.93h2.1M551.5 53.93h-2.1M61.5 45.46h2.1M551.5 45.46h-2.1M61.5 37.99h2.1M551.5 37.99h-2.1"/>
</g>
<g font-family="'Liberation Serif', serif" font-size="19.6" fill="#000" style="will-change:transform">
<text x="58.2" y="37.90" text-anchor="end">10.0</text>
<text x="58.2" y="81.88" text-anchor="end">5.0</text>
<text x="58.2" y="140.02" text-anchor="end">2.0</text>
<text x="58.2" y="184.00" text-anchor="end">1.0</text>
<text x="58.2" y="227.98" text-anchor="end">0.5</text>
<text x="58.2" y="286.12" text-anchor="end">0.2</text>
<text x="58.2" y="330.10" text-anchor="end">0.1</text>
<text x="61.10" y="354.1" text-anchor="middle">0.0</text>
<text x="160.44" y="354.1" text-anchor="middle">0.2</text>
<text x="259.78" y="354.1" text-anchor="middle">0.4</text>
<text x="359.12" y="354.1" text-anchor="middle">0.6</text>
<text x="458.46" y="354.1" text-anchor="middle">0.8</text>
<text x="124.2" y="17.9" xml:space="preserve" textLength="162.5" lengthAdjust="spacing"><tspan fill="#f00">CZ</tspan> v.s. <tspan fill="#00f">COZ</tspan> v.s. <tspan fill="#0f0">KS</tspan></text>
<text x="294.81" y="17.9" xml:space="preserve">v.s <tspan fill="#f0f">GS</tspan> input nucleon DA</text>
<text x="287.2" y="378.1" font-style="italic">x</text>
<text x="296.6" y="380.6" font-style="italic" font-size="14.0">B</text>
<g transform="translate(18.8 298.1) rotate(-90)">
<text x="-0.19" y="0.00" font-size="19.6" font-style="italic">d</text>
<text x="10.88" y="-8.50" font-size="14.0">2</text>
<text x="19.02" y="0.00" font-size="19.6" font-style="italic" textLength="12.6" lengthAdjust="spacingAndGlyphs">σ</text>
<text x="31.98" y="3.00" font-size="14.0" font-style="italic">T</text>
<text x="42.20" y="0.00" font-size="19.6">/</text>
<text x="48.59" y="0.00" font-size="19.6">dΩ</text>
<text x="72.22" y="3.00" font-size="14.0" font-style="italic">π</text>
<text x="85.25" y="0.00" font-size="19.6">[nb/sr]</text>
<text x="146.45" y="0.00" font-size="19.6" font-style="italic">γ</text>
<text x="159.02" y="-4.60" font-size="14.0">*</text>
<text x="168.85" y="0.00" font-size="19.6" font-style="italic">p</text>
<path d="M180.50 -5.70H193.20" stroke="#333" stroke-width="1.15" fill="none"/>
<path d="M189.40 -9.40Q191.20 -6.70 193.80 -5.70Q191.20 -4.70 189.40 -2.00" stroke="#333" stroke-width="1.2" fill="none" stroke-linejoin="miter"/>
<text x="195.49" y="0.00" font-size="19.6" font-style="italic">π</text>
<text x="208.26" y="-8.50" font-size="14.0" font-style="italic">0</text>
<text x="219.25" y="0.00" font-size="19.6" font-style="italic">p</text>
</g>
</g>
</svg>
</body></html>
